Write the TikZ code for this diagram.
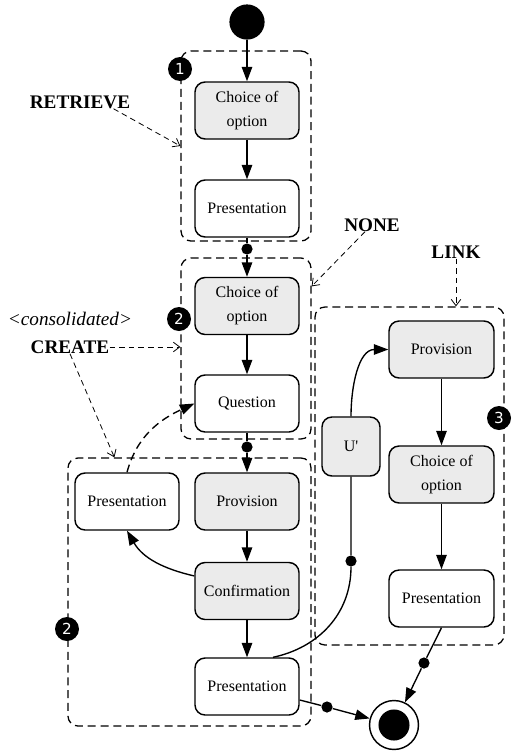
\documentclass[tikz,border=0pt]{standalone}
\usepackage{fontspec}
\setmainfont{Liberation Serif}
\newfontfamily\badgefont{DejaVu Sans}
\usetikzlibrary{arrows.meta}
\tikzset{
 box/.style={draw, line width=0.9pt, rounded corners=6.25pt, minimum width=65pt, minimum height=35.6pt, align=center, font=\fontsize{10}{15}\selectfont, inner sep=0pt},
 gbox/.style={box, fill=black!8},
 grp/.style={draw, line width=0.8pt, dash pattern=on 5pt off 3pt, rounded corners=6.25pt, inner sep=0pt},
 flow/.style={line width=0.85pt, -{Triangle[length=9pt,width=6.5pt]}},
 plain/.style={line width=0.85pt},
 dot/.style={circle, fill=black, inner sep=0pt, minimum size=7pt},
 badge/.style={circle, fill=black, text=white, inner sep=0pt, minimum size=15pt, font=\badgefont\fontsize{9.5}{9.5}\selectfont},
 lab/.style={font=\bfseries\fontsize{12}{14}\selectfont, inner sep=0pt},
 annot/.style={line width=0.5pt, dash pattern=on 3.5pt off 2.5pt, -{Straight Barb[length=4pt,width=6pt]}},
}
\begin{document}
\begin{tikzpicture}[x=0.625pt,y=-0.625pt]
\useasboundingbox (0,0) rectangle (512,754);
% groups
\node[grp, minimum width=81.25pt, minimum height=118.75pt] (g1) at (246,146) {};
\node[grp, minimum width=81.25pt, minimum height=113.1pt] (g2) at (246,348.5) {};
\node[grp, minimum width=118.1pt, minimum height=211.25pt] (g3) at (409.5,476) {};
\node[grp, minimum width=151.9pt, minimum height=167.5pt] (glow) at (189.5,592) {};
% badges
\node[badge] (b1) at (180,69) {1};
\node[badge] (b2) at (179,319) {2};
\node[badge] (b2l) at (67,629) {2};
\node[badge] (b3) at (499,418) {3};
% start / end
\node[circle, fill=black, minimum size=22pt, inner sep=0pt] (start) at (247,22) {};
\node[circle, draw, line width=0.9pt, minimum size=30.6pt, inner sep=0pt] (end) at (394,725) {};
\fill (end.center) circle (9.7pt);
% boxes
\node[gbox] (ch1) at (247,110.5) {Choice of\\option};
\node[box] (pr1) at (247,208.5) {Presentation};
\node[gbox] (ch2) at (247,306) {Choice of\\option};
\node[box] (q) at (247,403.5) {Question};
\node[gbox] (pv2) at (247,501.5) {Provision};
\node[box] (pl) at (127,501.5) {Presentation};
\node[gbox] (cf) at (247,591) {Confirmation};
\node[box] (pb) at (247,686.5) {Presentation};
\node[gbox, minimum width=65.6pt] (pv3) at (441.5,349.5) {Provision};
\node[gbox, minimum width=65.6pt] (ch3) at (441.5,474.5) {Choice of\\option};
\node[box, minimum width=65.6pt] (pr3) at (441.5,598.5) {Presentation};
\node[gbox, minimum width=36.25pt, minimum height=36.9pt] (u) at (351,446.5) {U\textquotesingle};
% dots
\node[dot] (d1) at (247,249) {};
\node[dot] (d2) at (247,447) {};
\node[dot] (d4) at (351,561) {};
\node[dot] (d5) at (327,707) {};
\node[dot] (d6) at (424,663) {};
% labels
\node[lab] (ret) at (80,102) {RETRIEVE};
\node[lab] (none) at (372,225) {NONE};
\node[lab] (link) at (456,252) {LINK};
\node[lab] (create) at (70,347) {CREATE};
\node[font=\itshape\fontsize{12}{14}\selectfont, inner sep=0pt] (cons) at (70,319) {<consolidated>};
% flow
\draw[flow] (start) -- (ch1);
\draw[flow] (ch1) -- (pr1);
\draw[flow] (pr1) -- (d1) -- (ch2);
\draw[flow] (ch2) -- (q);
\draw[flow] (q) -- (d2) -- (pv2);
\draw[flow] (pv2) -- (cf);
\draw[flow] (cf) -- (pb);
\draw[flow] ([yshift=9.4pt]cf.west) to[out=167,in=-60] (pl.south);
\draw[flow, dash pattern=on 5pt off 3pt] (pl.north) to[out=75,in=205] (q.west);
\draw[flow] (pv3) -- (ch3);
\draw[flow] (ch3) -- (pr3);
\draw[flow] (u.north) to[out=90,in=180] (pv3.west);
\draw[plain] ([xshift=16.25pt]pb.north) to[out=12,in=-90] (d4) -- (u.south);
\draw[flow] (pb) -- (d5) -- (end);
\draw[flow] (pr3.south) -- (d6) -- (end);
% annotations
\draw[annot] ([xshift=-10.6pt]ret.south east) -- (g1.west);
\draw[annot] ([xshift=-4.4pt]none.south) -- ([yshift=-18.1pt]g2.north east);
\draw[annot] (link.south) -- (link.south |- g3.north);
\draw[annot] (create.east) -- (create.east -| g2.west);
\draw[annot] (create.south) -- ([xshift=29.4pt]glow.north west);
\end{tikzpicture}
\end{document}
